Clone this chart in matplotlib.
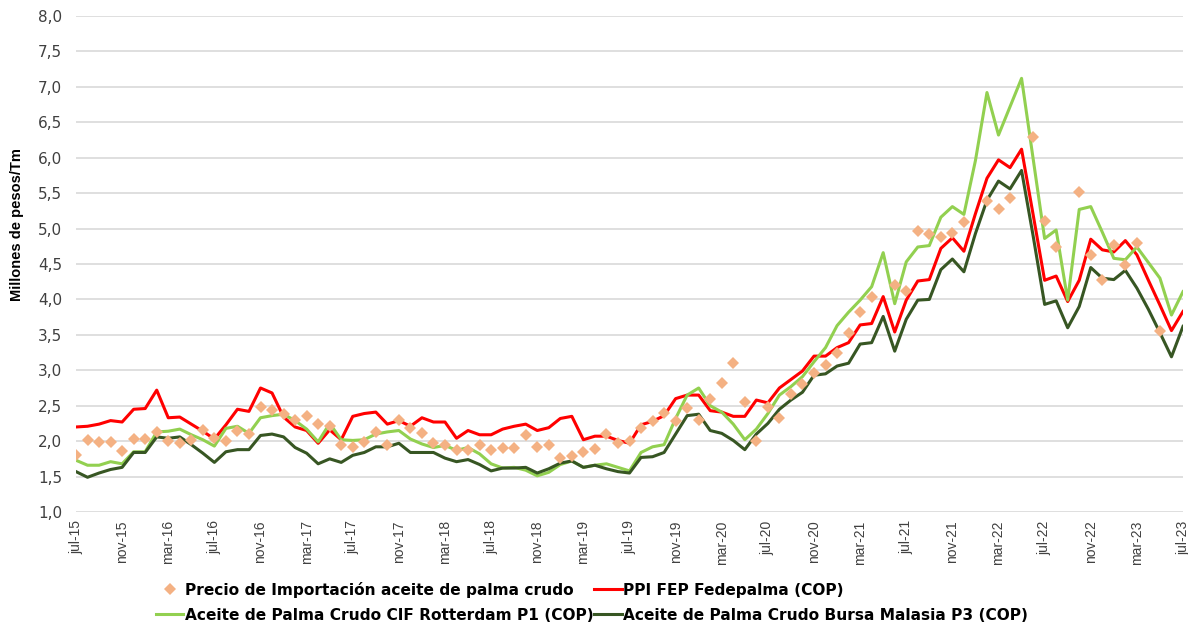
import numpy as np
import matplotlib.pyplot as plt
from matplotlib.ticker import FuncFormatter

# Meses jul-15 .. jul-23
meses = ["jul", "ago", "sep", "oct", "nov", "dic", "ene", "feb", "mar", "abr", "may", "jun"]
n = 97
fechas = []
for k in range(n):
    mes = meses[k % 12]
    anio = 15 + (k + 6) // 12
    fechas.append(f"{mes}-{anio:02d}")

# Precio de importación (millones de pesos/Tm); nan = sin dato
precio_importacion = [
    1.80, 2.02, 1.99, 1.99, 1.86, 2.03, 2.03, 2.13, 2.00, 1.98, 2.02, 2.16, 2.05, 2.00, 2.14, 2.10, 2.48,
    2.44, 2.39, 2.30, 2.36, 2.24, 2.22, 1.95, 1.92, 1.99, 2.13, 1.94, 2.30, 2.19, 2.11, 1.97, 1.94,
    1.87, 1.88, 1.95, 1.88, 1.91, 1.91, 2.08, 1.92, 1.95, 1.76, 1.79, 1.85, 1.89, 2.10, 1.97, 2.00,
    2.19, 2.29, 2.40, 2.28, 2.47, 2.30, 2.60, 2.82, 3.10, 2.55, 2.00, 2.48, 2.32, 2.67, 2.81, 2.96,
    3.07, 3.24, 3.52, 3.82, 4.04, np.nan, 4.21, 4.12, 4.96, 4.93, 4.88, 4.94, 5.09, np.nan, 5.39, 5.28,
    5.43, np.nan, 6.29, 5.11, 4.74, np.nan, 5.52, 4.63, 4.27, 4.77, 4.48, 4.80, np.nan, 3.56, np.nan, np.nan,
]

ppi_fedepalma = [
    2.20, 2.21, 2.24, 2.29, 2.27, 2.45, 2.46, 2.72, 2.33, 2.34, 2.24, 2.14, 2.03, 2.23, 2.45, 2.42, 2.75,
    2.68, 2.34, 2.20, 2.15, 1.97, 2.16, 2.02, 2.35, 2.39, 2.41, 2.24, 2.29, 2.21, 2.33, 2.27, 2.27,
    2.04, 2.15, 2.09, 2.09, 2.17, 2.21, 2.24, 2.15, 2.19, 2.32, 2.35, 2.02, 2.07, 2.07, 2.01, 1.97,
    2.23, 2.28, 2.36, 2.60, 2.65, 2.65, 2.43, 2.41, 2.35, 2.35, 2.58, 2.54, 2.75, 2.87, 2.99, 3.20,
    3.20, 3.32, 3.39, 3.64, 3.66, 4.04, 3.54, 3.99, 4.26, 4.28, 4.72, 4.87, 4.68, 5.21, 5.71, 5.97,
    5.86, 6.12, 5.20, 4.27, 4.33, 3.97, 4.27, 4.85, 4.70, 4.67, 4.83, 4.63, 4.27, 3.92, 3.56, 3.83,
]

cif_rotterdam = [
    1.73, 1.66, 1.66, 1.71, 1.68, 1.85, 1.85, 2.13, 2.14, 2.17, 2.09, 2.02, 1.93, 2.18, 2.21, 2.11, 2.33,
    2.36, 2.38, 2.29, 2.17, 1.99, 2.25, 2.02, 2.01, 2.02, 2.10, 2.13, 2.15, 2.03, 1.96, 1.91, 1.94,
    1.87, 1.91, 1.82, 1.68, 1.62, 1.63, 1.59, 1.51, 1.56, 1.67, 1.72, 1.63, 1.66, 1.68, 1.63, 1.58,
    1.84, 1.92, 1.95, 2.32, 2.65, 2.75, 2.50, 2.41, 2.24, 2.02, 2.17, 2.39, 2.65, 2.77, 2.91, 3.12,
    3.32, 3.63, 3.82, 3.99, 4.18, 4.66, 3.94, 4.53, 4.74, 4.76, 5.16, 5.31, 5.20, 5.96, 6.92, 6.32,
    6.72, 7.12, 5.99, 4.86, 4.98, 3.99, 5.27, 5.31, 4.95, 4.58, 4.56, 4.74, 4.52, 4.30, 3.78, 4.11,
]

bursa_malasia = [
    1.57, 1.49, 1.55, 1.60, 1.63, 1.84, 1.84, 2.06, 2.04, 2.06, 1.95, 1.83, 1.70, 1.85, 1.88, 1.88, 2.08,
    2.10, 2.06, 1.91, 1.83, 1.68, 1.75, 1.70, 1.80, 1.84, 1.92, 1.92, 1.97, 1.84, 1.84, 1.84, 1.76,
    1.71, 1.74, 1.67, 1.58, 1.62, 1.62, 1.63, 1.55, 1.61, 1.69, 1.72, 1.63, 1.66, 1.61, 1.57, 1.55,
    1.77, 1.78, 1.84, 2.10, 2.36, 2.38, 2.15, 2.11, 2.01, 1.88, 2.10, 2.25, 2.45, 2.58, 2.69, 2.93,
    2.95, 3.06, 3.10, 3.37, 3.39, 3.76, 3.27, 3.72, 3.99, 4.00, 4.42, 4.57, 4.39, 4.93, 5.40, 5.67,
    5.56, 5.82, 4.90, 3.93, 3.98, 3.60, 3.90, 4.45, 4.30, 4.28, 4.41, 4.16, 3.86, 3.53, 3.19, 3.62,
]

x = np.arange(n)

fig = plt.figure(figsize=(11.88, 6.22), dpi=100)
ax = fig.add_axes([76 / 1188, 1 - 512 / 622, (1183 - 76) / 1188, (512 - 16) / 622])

l_ppi, = ax.plot(x, ppi_fedepalma, color="#FF0000", lw=2.2, zorder=3)
l_cif, = ax.plot(x, cif_rotterdam, color="#92D050", lw=2.2, zorder=3)
l_bur, = ax.plot(x, bursa_malasia, color="#375623", lw=2.2, zorder=3)
p_imp, = ax.plot(x, precio_importacion, ls="none", marker="D", ms=6.5,
                 color="#F4B183", markeredgewidth=0, zorder=4)

ax.set_xlim(0, n - 1)
ax.set_ylim(1.0, 8.0)
ax.set_yticks(np.arange(1.0, 8.01, 0.5))
ax.yaxis.set_major_formatter(FuncFormatter(lambda v, _: f"{v:.1f}".replace(".", ",")))
ax.set_xticks(x[::4])
ax.set_xticklabels(fechas[::4], rotation=90, fontfamily="Liberation Sans", fontsize=10)
ax.tick_params(axis="y", length=0, pad=10, labelsize=11, labelcolor="#404040")
ax.tick_params(axis="x", length=0, pad=6, labelcolor="#404040")

ax.grid(axis="y", color="#D9D9D9", lw=1.2)
ax.set_axisbelow(True)
for s in ax.spines.values():
    s.set_visible(False)

fig.text(17 / 1188, 1 - 225 / 622, "Millones de pesos/Tm", rotation=90,
         ha="center", va="center", fontfamily="Liberation Sans", fontweight="bold", fontsize=10.5)

fig.legend([p_imp, l_cif, l_ppi, l_bur],
           ["Precio de Importación aceite de palma crudo",
            "Aceite de Palma Crudo CIF Rotterdam P1 (COP)",
            "PPI FEP Fedepalma (COP)",
            "Aceite de Palma Crudo Bursa Malasia P3 (COP)"],
           ncol=2, loc="upper left", bbox_to_anchor=(148 / 1188, 1 - 574 / 622),
           frameon=False, borderpad=0, handlelength=1.8, handletextpad=0.1,
           columnspacing=0.0, labelspacing=0.64,
           prop={"weight": "bold", "size": 11.1})

fig.savefig("out.png", dpi=100)
